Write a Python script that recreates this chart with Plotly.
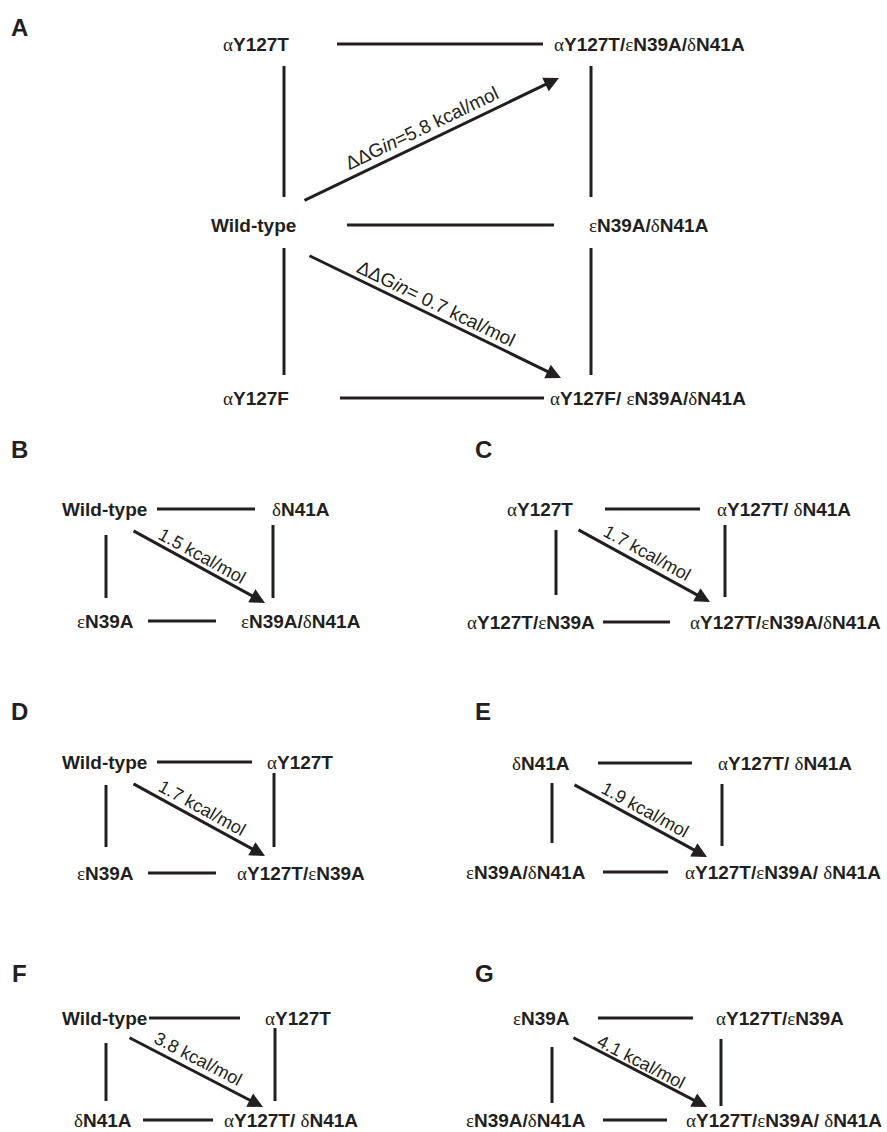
import math
import plotly.graph_objects as go

# ---------------- data ----------------
PANEL_LETTERS = ["A", "B", "C", "D", "E", "F", "G"]

# Panel A: three rows, two columns of mutants
A_LEFT = ["αY127T", "Wild-type", "αY127F"]
A_RIGHT = ["αY127T/εN39A/δN41A", "εN39A/δN41A", "αY127F/ εN39A/δN41A"]
A_DDG = [5.8, 0.7]          # kcal/mol, Wild-type -> top-right, Wild-type -> bottom-right
A_DDG_FMT = ["ΔΔG<i>in</i>={} kcal/mol", "ΔΔG<i>in</i>= {} kcal/mol"]

# Panels B-G: double-mutant cycles (top-left, top-right, bottom-left, bottom-right)
CYCLE_TL = ["Wild-type", "αY127T", "Wild-type", "δN41A", "Wild-type", "εN39A"]
CYCLE_TR = ["δN41A", "αY127T/ δN41A", "αY127T", "αY127T/ δN41A", "αY127T", "αY127T/εN39A"]
CYCLE_BL = ["εN39A", "αY127T/εN39A", "εN39A", "εN39A/δN41A", "δN41A", "εN39A/δN41A"]
CYCLE_BR = ["εN39A/δN41A", "αY127T/εN39A/δN41A", "αY127T/εN39A",
            "αY127T/εN39A/ δN41A", "αY127T/ δN41A", "αY127T/εN39A/ δN41A"]
CYCLE_DDG = [1.5, 1.7, 1.7, 1.9, 3.8, 4.1]

# ---------------- layout / styling (pixel geometry) ----------------
W, H = 887, 1132
INK = "#231f20"
FONT = "Liberation Sans, Arial, sans-serif"
GREEK_FONT = "Liberation Serif, Times New Roman, serif"
NODE_SIZE = 19
ARROW_LABEL_SIZE = 18
ARROW_LABEL_SIZE_A = 19
LETTER_SIZE = 24
LW = 3

LETTER_POS = {"A": (19, 27), "B": (19, 449), "C": (483, 449), "D": (19, 711),
              "E": (483, 711), "F": (19, 973), "G": (484, 973)}

GEOM_A = {
    "left_x": [256, 253, 256], "right_x": [649, 649, 648], "row_y": [44, 225, 398],
    "hlines": [(337, 543), (347, 554), (340, 544)],
    "vcols": [284, 591], "vsegs": [(66, 197), (248, 375)],
    "arrows": [((303, 201), (559, 78)), ((308, 255), (561, 378))],
    "labels": [(421, 128), (436, 303)],
}

GEOM_CYC = [
    # B
    {"x": (104, 301, 105, 301), "y": (509, 621), "top": (157, 255), "bot": (148, 216),
     "lv": (106, 535, 598), "rv": (273, 525, 598), "arrow": ((132, 530), (265, 603)), "label": (202, 556)},
    # C
    {"x": (540, 784, 531, 785), "y": (509, 622), "top": (605, 700), "bot": (603, 670),
     "lv": (556, 530, 595), "rv": (725, 525, 597), "arrow": ((577, 529), (710, 602)), "label": (647, 553)},
    # D
    {"x": (104, 300, 105, 301), "y": (762, 873), "top": (157, 252), "bot": (148, 216),
     "lv": (106, 785, 847), "rv": (274, 773, 847), "arrow": ((132, 783), (265, 856)), "label": (202, 808)},
    # E
    {"x": (541, 785, 526, 783), "y": (763, 872), "top": (598, 692), "bot": (603, 668),
     "lv": (552, 783, 843), "rv": (722, 784, 846), "arrow": ((573, 784), (707, 857)), "label": (645, 810)},
    # F
    {"x": (104, 298, 103, 291), "y": (1018, 1120), "top": (149, 240), "bot": (143, 213),
     "lv": (106, 1043, 1101), "rv": (275, 1028, 1101), "arrow": ((128, 1037), (263, 1107)), "label": (198, 1059)},
    # G
    {"x": (541, 780, 526, 784), "y": (1018, 1120), "top": (598, 693), "bot": (603, 667),
     "lv": (552, 1047, 1103), "rv": (721, 1039, 1106), "arrow": ((572, 1037), (707, 1107)), "label": (641, 1062)},
]

GREEK = set("αδε")


def fmt(label):
    """Latin parts bold, Greek letters regular (as in the original figure)."""
    out, buf = "", ""
    for ch in label:
        if ch in GREEK:
            if buf:
                out += "<b>" + buf + "</b>"
                buf = ""
            out += '<span style="font-family:' + GREEK_FONT + '">' + ch + "</span>"
        else:
            buf += ch
    if buf:
        out += "<b>" + buf + "</b>"
    return out


fig = go.Figure()
shapes = []


def hline(x0, x1, y):
    shapes.append(dict(type="line", xref="x", yref="y", x0=x0, x1=x1, y0=y, y1=y,
                       line=dict(color=INK, width=LW)))


def vline(x, y0, y1):
    shapes.append(dict(type="line", xref="x", yref="y", x0=x, x1=x, y0=y0, y1=y1,
                       line=dict(color=INK, width=LW)))


def node(x, y, label):
    fig.add_annotation(x=x, y=y, xref="x", yref="y", text=fmt(label), showarrow=False,
                       xanchor="center", yanchor="middle",
                       font=dict(family=FONT, size=NODE_SIZE, color=INK))


def arrow(tail, tip, label, label_pos, size):
    fig.add_annotation(x=tip[0], y=tip[1], ax=tail[0], ay=tail[1],
                       xref="x", yref="y", axref="x", ayref="y", text="",
                       showarrow=True, arrowhead=2, arrowsize=1.0, arrowwidth=LW,
                       arrowcolor=INK, standoff=0, startstandoff=0)
    ang = math.degrees(math.atan2(tip[1] - tail[1], tip[0] - tail[0]))
    fig.add_annotation(x=label_pos[0], y=label_pos[1], xref="x", yref="y", text=label,
                       showarrow=False, textangle=ang, xanchor="center", yanchor="middle",
                       font=dict(family=FONT, size=size, color=INK))


# panel letters
for letter in PANEL_LETTERS:
    lx, ly = LETTER_POS[letter]
    fig.add_annotation(x=lx, y=ly, xref="x", yref="y", text="<b>" + letter + "</b>",
                       showarrow=False, xanchor="center", yanchor="middle",
                       font=dict(family=FONT, size=LETTER_SIZE, color=INK))

# panel A
g = GEOM_A
for i in range(3):
    node(g["left_x"][i], g["row_y"][i], A_LEFT[i])
    node(g["right_x"][i], g["row_y"][i], A_RIGHT[i])
    hline(g["hlines"][i][0], g["hlines"][i][1], g["row_y"][i])
for cx in g["vcols"]:
    for (y0, y1) in g["vsegs"]:
        vline(cx, y0, y1)
for i in range(2):
    tail, tip = g["arrows"][i]
    arrow(tail, tip, A_DDG_FMT[i].format(A_DDG[i]), g["labels"][i], ARROW_LABEL_SIZE_A)

# panels B-G
for i, g in enumerate(GEOM_CYC):
    xtl, xtr, xbl, xbr = g["x"]
    yt, yb = g["y"]
    node(xtl, yt, CYCLE_TL[i])
    node(xtr, yt, CYCLE_TR[i])
    node(xbl, yb, CYCLE_BL[i])
    node(xbr, yb, CYCLE_BR[i])
    hline(g["top"][0], g["top"][1], yt)
    hline(g["bot"][0], g["bot"][1], yb)
    vline(*g["lv"])
    vline(*g["rv"])
    tail, tip = g["arrow"]
    arrow(tail, tip, "{} kcal/mol".format(CYCLE_DDG[i]), g["label"], ARROW_LABEL_SIZE)

fig.update_layout(
    width=W, height=H, margin=dict(l=0, r=0, t=0, b=0),
    paper_bgcolor="white", plot_bgcolor="white", showlegend=False,
    shapes=shapes,
    xaxis=dict(range=[0, W], visible=False, fixedrange=True),
    yaxis=dict(range=[H, 0], visible=False, fixedrange=True),
)

fig.write_html(
    "out.html",
    config={"displayModeBar": False},
    post_script="document.body.style.margin='0';document.body.style.overflow='hidden';",
)
